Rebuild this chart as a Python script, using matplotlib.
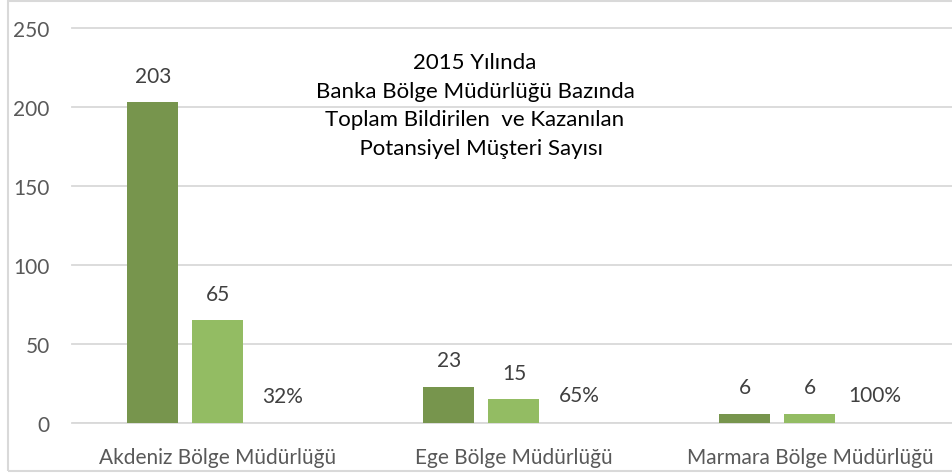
import matplotlib
matplotlib.use("Agg")
import matplotlib.pyplot as plt
from matplotlib.patches import Rectangle
import numpy as np

categories = ["Akdeniz Bölge Müdürlüğü", "Ege Bölge Müdürlüğü", "Marmara Bölge Müdürlüğü"]
reported = [203, 23, 6]
won = [65, 15, 6]
ratio_labels = ["32%", "65%", "100%"]
ratio_values = [0.32, 0.65, 1.0]
yticks = [0, 50, 100, 150, 200, 250]
title_text = "2015 Yılında\nBanka Bölge Müdürlüğü Bazında\nToplam Bildirilen  ve Kazanılan\n  Potansiyel Müşteri Sayısı"

plt.rcParams['font.family'] = ['Lato', 'DejaVu Sans']

W, H = 952, 477
fig = plt.figure(figsize=(W / 100, H / 100), dpi=100)
ax = fig.add_axes([72 / W, (H - 424) / H, (952 - 72) / W, 395 / H])

x = np.arange(len(categories))
off = 0.22
bw = 0.172
dark = "#77954D"
light = "#93BC63"

b1 = ax.bar(x - off, reported, bw, color=dark, zorder=3)
b2 = ax.bar(x, won, bw, color=light, zorder=3)
b3 = ax.bar(x + off, ratio_values, bw, color="none", zorder=3)

lab_color = "#404040"
fs = 15
for bars, labels in ((b1, [str(v) for v in reported]), (b2, [str(v) for v in won]), (b3, ratio_labels)):
    for rect, lab in zip(bars, labels):
        ax.annotate(lab, (rect.get_x() + rect.get_width() / 2, rect.get_height()),
                    xytext=(0, 12), textcoords="offset points", ha="center", va="bottom",
                    fontsize=fs, color=lab_color)

ax.set_xlim(-0.493, 2.480)
ax.set_ylim(0, 250)
ax.set_yticks(yticks)
ax.set_xticks(x)
ax.set_xticklabels(categories)
ax.yaxis.grid(True, color="#D9D9D9", lw=1.3, zorder=0)
for gl in ax.get_ygridlines():
    gl.set_clip_on(False)
ax.tick_params(axis="both", length=0, labelsize=fs, colors="#595959")
ax.tick_params(axis="y", pad=16)
ax.tick_params(axis="x", pad=17)
for s in ax.spines.values():
    s.set_visible(False)
ax.axhline(0, color="#D9D9D9", lw=1.3, zorder=2)

ax.text(0.458, 0.94, title_text, transform=ax.transAxes, ha="center", va="top",
        multialignment="center", fontsize=16, color="#000000", linespacing=1.55)

fig.patches.append(Rectangle((8 / W, (H - 472) / H), (W + 10 - 8) / W, (471 - 1) / H,
                             transform=fig.transFigure, fill=False, edgecolor="#D9D9D9",
                             lw=1.5, zorder=10))

fig.savefig("out.png", dpi=100)
